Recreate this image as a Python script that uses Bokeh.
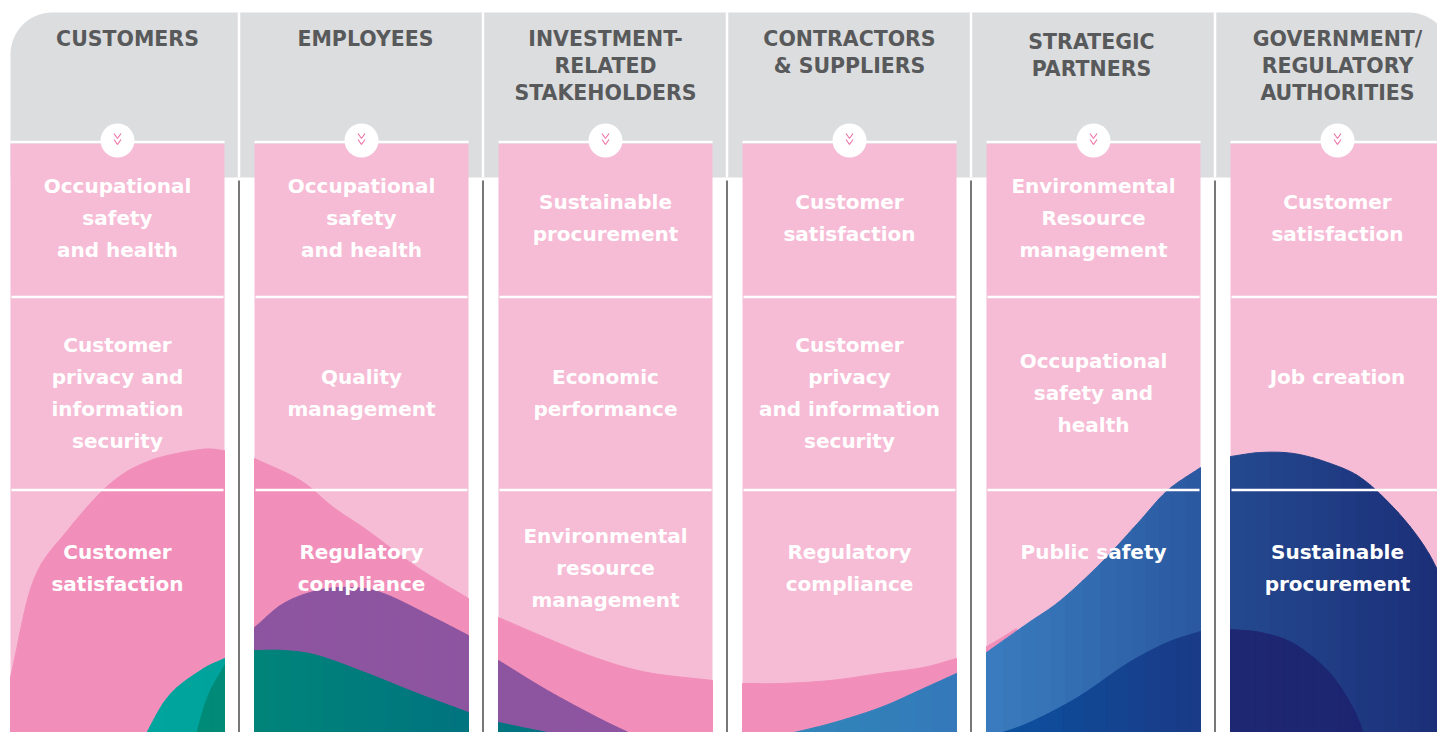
import numpy as np
from bokeh.plotting import figure
from bokeh.models import Range1d
from bokeh.embed import file_html
from bokeh.resources import INLINE
from bokeh.core.properties import value

# ---------------- content ----------------
stakeholders = [
    "CUSTOMERS",
    "EMPLOYEES",
    "INVESTMENT-\nRELATED\nSTAKEHOLDERS",
    "CONTRACTORS\n& SUPPLIERS",
    "STRATEGIC\nPARTNERS",
    "GOVERNMENT/\nREGULATORY\nAUTHORITIES",
]
topics_row1 = [
    "Occupational\nsafety\nand health",
    "Occupational\nsafety\nand health",
    "Sustainable\nprocurement",
    "Customer\nsatisfaction",
    "Environmental\nResource\nmanagement",
    "Customer\nsatisfaction",
]
topics_row2 = [
    "Customer\nprivacy and\ninformation\nsecurity",
    "Quality\nmanagement",
    "Economic\nperformance",
    "Customer\nprivacy\nand information\nsecurity",
    "Occupational\nsafety and\nhealth",
    "Job creation\n",
]
topics_row3 = [
    "Customer\nsatisfaction",
    "Regulatory\ncompliance",
    "Environmental\nresource\nmanagement",
    "Regulatory\ncompliance",
    "Public safety\n",
    "Sustainable\nprocurement",
]

# ---------------- layout / style ----------------
FONT = "DejaVu Sans"
GREY = "#dcdddf"
PINK = "#f6bbd5"
PINK_DARK = "#f18fba"
PURPLE = "#8d55a0"
HEAD_COLOR = "#58595b"

col_left = [10 + 244 * i for i in range(6)]
col_w = 214
col_right = [l + col_w for l in col_left]
col_cx = [l + col_w / 2 for l in col_left]
sep_x = [l + 228.5 for l in col_left[:-1]]
head_dx = [10, 4, 0, 0, -2, 0]
head_dy = [0, 0, 0, 0, 3, 0]
TOP, GREY_BOTTOM, CELL_TOP, BOTTOM = 12, 177, 143, 748
row_sep_y = [296.5, 489.5]
row_center = [217, 392, 567]
LINE_H = 32
HEAD_LINE_H = 27

# decorative waves per column: (left colour, right colour, control points)
waves = [
    [(PINK_DARK, PINK_DARK, [(10, 677), (33, 580), (67, 530), (110, 483), (150, 460), (200, 449), (224, 450)]),
     ("#00a89f", "#00a39c", [(138, 748), (167, 697), (200, 670), (224, 658)]),
     ("#008e7c", "#008a78", [(192, 748), (207, 697), (224, 665)])],
    [(PINK_DARK, PINK_DARK, [(254, 458), (300, 480), (333, 507), (367, 530), (417, 567), (468, 598)]),
     (PURPLE, PURPLE, [(254, 627), (283, 603), (317, 590), (350, 587), (383, 593), (433, 617), (468, 635)]),
     ("#00857a", "#00737f", [(254, 650), (283, 650), (317, 655), (367, 673), (417, 693), (468, 712)])],
    [(PINK_DARK, PINK_DARK, [(498, 617), (547, 638), (597, 658), (647, 672), (712, 680)]),
     (PURPLE, PURPLE, [(498, 660), (547, 690), (597, 717), (630, 733), (663, 748)]),
     ("#00757f", "#00757f", [(498, 722), (547, 732), (597, 740), (647, 746), (680, 748)])],
    [(PINK_DARK, PINK_DARK, [(742, 683), (780, 683), (830, 680), (880, 673), (923, 667), (956, 658)]),
     ("#2e8ab8", "#3579ba", [(742, 743), (780, 735), (830, 723), (880, 707), (923, 688), (956, 673)])],
    [(PINK_DARK, PINK_DARK, [(986, 646), (1000, 638), (1016, 628)]),
     ("#3a7dbf", "#2a58a0", [(986, 652), (1027, 623), (1060, 600), (1100, 563), (1137, 523), (1167, 490), (1200, 467)]),
     ("#0a52a0", "#1a3a86", [(986, 737), (1027, 723), (1077, 697), (1127, 663), (1167, 642), (1200, 631)])],
    [("#24498f", "#1b2e77", [(1230, 456), (1260, 452), (1293, 453), (1327, 462), (1360, 477), (1393, 507), (1420, 540), (1437, 570), (1444, 595)]),
     ("#1e2772", "#1c2470", [(1230, 629), (1260, 632), (1293, 643), (1327, 670), (1350, 703), (1362, 730), (1367, 748)])],
]


def catmull(pts, n=14):
    pts = np.asarray(pts, float)
    P = np.vstack([pts[0] * 2 - pts[1], pts, pts[-1] * 2 - pts[-2]])
    out = []
    for i in range(1, len(P) - 2):
        p0, p1, p2, p3 = P[i - 1], P[i], P[i + 1], P[i + 2]
        for t in np.linspace(0, 1, n, endpoint=False):
            t2, t3 = t * t, t * t * t
            out.append(0.5 * ((2 * p1) + (-p0 + p2) * t + (2 * p0 - 5 * p1 + 4 * p2 - p3) * t2
                              + (-p0 + 3 * p1 - 3 * p2 + p3) * t3))
    out.append(P[-2])
    return np.array(out)


def mix(c1, c2, f):
    a = [int(c1[i:i + 2], 16) for i in (1, 3, 5)]
    b = [int(c2[i:i + 2], 16) for i in (1, 3, 5)]
    return "#%02x%02x%02x" % tuple(int(round(a[k] + (b[k] - a[k]) * f)) for k in range(3))


W, H = 1437, 732
p = figure(width=W, height=H, output_backend="svg", toolbar_location=None,
           x_range=Range1d(0, W), y_range=Range1d(H, 0),
           min_border=0, background_fill_color="white", border_fill_color="white")
p.axis.visible = False
p.grid.visible = False
p.outline_line_color = None

# grey header band with rounded top corners
r = 42
L, R = 10, 1450
ang = np.linspace(np.pi, 1.5 * np.pi, 20)
lx = list(L + r + r * np.cos(ang)); ly = list(TOP + r + r * np.sin(ang))
ang2 = np.linspace(1.5 * np.pi, 2 * np.pi, 20)
rx = list(R - r + r * np.cos(ang2)); ry = list(TOP + r + r * np.sin(ang2))
gx = [L] + lx + rx + [R, R, L]
gy = [GREY_BOTTOM] + ly + ry + [GREY_BOTTOM, GREY_BOTTOM, GREY_BOTTOM]
p.patch(gx, gy, fill_color=GREY, line_color=None)

# separators
p.segment(x0=sep_x, y0=[TOP] * 5, x1=sep_x, y1=[GREY_BOTTOM] * 5, line_color="white", line_width=2.5)
p.segment(x0=sep_x, y0=[180] * 5, x1=sep_x, y1=[BOTTOM] * 5, line_color="#555555", line_width=1.6)

# pink cells
p.quad(left=col_left, right=col_right, top=[CELL_TOP] * 6, bottom=[BOTTOM] * 6,
       fill_color=PINK, line_color=None)

# waves
for ci, layers in enumerate(waves):
    l, rgt = col_left[ci], col_right[ci]
    for c1, c2, pts in layers:
        curve = catmull(pts)
        curve[:, 0] = np.clip(curve[:, 0], l, rgt)
        curve[:, 1] = np.clip(curve[:, 1], CELL_TOP, BOTTOM)
        k = 6
        xs, ys, cols = [], [], []
        for s in range(0, len(curve) - 1, k):
            seg = curve[s:s + k + 1]
            xx = list(seg[:, 0]) + [seg[-1, 0], seg[0, 0]]
            yy = list(seg[:, 1]) + [BOTTOM, BOTTOM]
            f = (seg[:, 0].mean() - l) / (rgt - l)
            xs.append(xx); ys.append(yy); cols.append(mix(c1, c2, f))
        p.patches(xs, ys, fill_color=cols, line_color=cols, line_width=1.0)

# white rules
for y in row_sep_y:
    p.segment(x0=[l + 1 for l in col_left], y0=[y] * 6, x1=[r_ - 1 for r_ in col_right], y1=[y] * 6,
              line_color="white", line_width=2.5)
p.segment(x0=col_left, y0=[141.5] * 6, x1=col_right, y1=[141.5] * 6, line_color="white", line_width=2.5)

# badges with chevrons
p.scatter(x=col_cx, y=[140] * 6, size=34, marker="circle", fill_color="white", line_color=None)
chev_x, chev_y = [], []
for cx in col_cx:
    for y0 in (133, 139):
        chev_x.append([cx - 3.5, cx, cx + 3.5]); chev_y.append([y0, y0 + 5, y0])
p.multi_line(chev_x, chev_y, line_color="#ee6fa5", line_width=1.1)

# header texts
hx, hy, ht = [], [], []
for i, s in enumerate(stakeholders):
    for j, line in enumerate(s.split("\n")):
        hx.append(col_cx[i] + head_dx[i]); hy.append(38 + head_dy[i] + j * HEAD_LINE_H); ht.append(line)
p.text(x=hx, y=hy, text=ht, text_align="center", text_baseline="middle",
       text_font=value(FONT), text_font_style="bold", text_font_size="20.5px", text_color=HEAD_COLOR)

# cell texts
tx, ty, tt = [], [], []
for rowi, row in enumerate([topics_row1, topics_row2, topics_row3]):
    for i, s in enumerate(row):
        lines = s.split("\n")
        n = len(lines)
        for j, line in enumerate(lines):
            if line:
                tx.append(col_cx[i]); ty.append(row_center[rowi] + (j - (n - 1) / 2) * LINE_H); tt.append(line)
p.text(x=tx, y=ty, text=tt, text_align="center", text_baseline="middle",
       text_font=value(FONT), text_font_style="bold", text_font_size="20px", text_color="white")

open("out.html", "w").write(file_html(p, INLINE))
